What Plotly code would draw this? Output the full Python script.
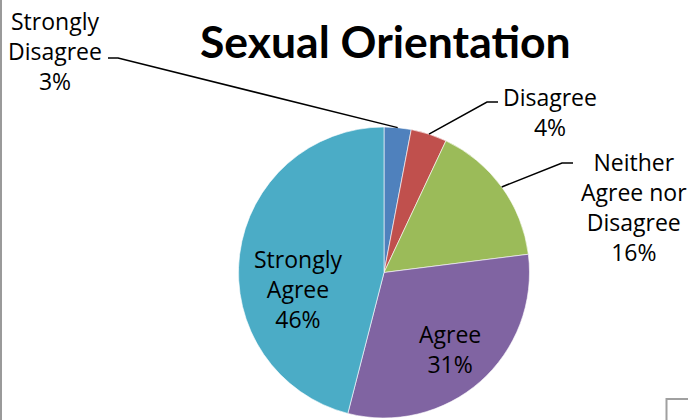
import math
import plotly.graph_objects as go

categories = ["Strongly Disagree", "Disagree", "Neither Agree nor Disagree", "Agree", "Strongly Agree"]
label_text = ["Strongly<br>Disagree", "Disagree", "Neither<br>Agree nor<br>Disagree", "Agree", "Strongly<br>Agree"]
values = [3, 4, 16, 31, 46]
colors = ["#4F81BD", "#C0504D", "#9BBB59", "#8064A2", "#4BACC6"]
title_text = "Sexual Orientation"

W, H = 688, 420
CX, CY, R = 384, 272.5, 145.5

def px(x):
    return x / W

def py(y):
    return 1 - y / H

LABEL_FONT = dict(family="Open Sans, Lato, sans-serif", size=23, color="#000000")

fig = go.Figure(go.Pie(
    labels=categories,
    values=values,
    sort=False,
    direction="clockwise",
    rotation=0,
    marker=dict(colors=colors, line=dict(color="#ffffff", width=0.6)),
    textinfo="none",
    hoverinfo="label+percent",
    showlegend=False,
    domain=dict(x=[px(CX - R), px(CX + R)], y=[py(CY + R), py(CY - R)]),
))

total = sum(values)
cum = 0
mids = []
for v in values:
    mids.append((cum + v / 2) / total * 2 * math.pi)
    cum += v

def edge(i):
    a = mids[i]
    return CX + R * math.sin(a), CY - R * math.cos(a)

def label(i):
    return f"{label_text[i]}<br>{round(values[i] / total * 100)}%"

# outside label placement (pixel layout): text centre, knee, line end
outside = [
    (0, (55, 51), (118, 58), (108, 58)),
    (1, (550, 112), (487, 102), (498, 102)),
    (2, (634, 207), (562, 163), (573, 163)),
]
# inside label centres
inside = [
    (3, (450, 349)),
    (4, (298, 289)),
]

annotations = []
shapes = []
for i, (tx, ty), (kx, ky), (ex, ey) in outside:
    annotations.append(dict(
        x=px(tx), y=py(ty), xref="paper", yref="paper",
        text=label(i), showarrow=False, font=LABEL_FONT, align="center",
        xanchor="center", yanchor="middle",
    ))
    sx, sy = edge(i)
    shapes.append(dict(
        type="path", xref="paper", yref="paper",
        path=f"M {px(sx)} {py(sy)} L {px(kx)} {py(ky)} L {px(ex)} {py(ey)}",
        line=dict(color="#000000", width=1.5),
    ))
for i, (tx, ty) in inside:
    annotations.append(dict(
        x=px(tx), y=py(ty), xref="paper", yref="paper",
        text=label(i), showarrow=False, font=LABEL_FONT, align="center",
        xanchor="center", yanchor="middle",
    ))

annotations.append(dict(
    x=px(385), y=py(41), xref="paper", yref="paper",
    text=f"<b>{title_text}</b>", showarrow=False,
    font=dict(family="Lato, sans-serif", size=44.5, color="#000000"),
    xanchor="center", yanchor="middle",
))

# chart-area border pieces
shapes.append(dict(type="line", xref="paper", yref="paper", x0=px(1), x1=px(1), y0=0, y1=1,
                   line=dict(color="#9a9a9a", width=2)))
shapes.append(dict(type="path", xref="paper", yref="paper",
                   path=f"M {px(666.5)} -0.01 L {px(666.5)} {py(399)} L 1.01 {py(399)}",
                   line=dict(color="#a0a0a0", width=2)))

fig.update_layout(
    width=W, height=H,
    margin=dict(l=0, r=0, t=0, b=0),
    paper_bgcolor="#ffffff",
    plot_bgcolor="#ffffff",
    annotations=annotations,
    shapes=shapes,
)

fig.write_html(
    "out.html",
    config={"displayModeBar": False},
    post_script="document.body.style.margin='0';document.body.style.overflow='hidden';",
)
